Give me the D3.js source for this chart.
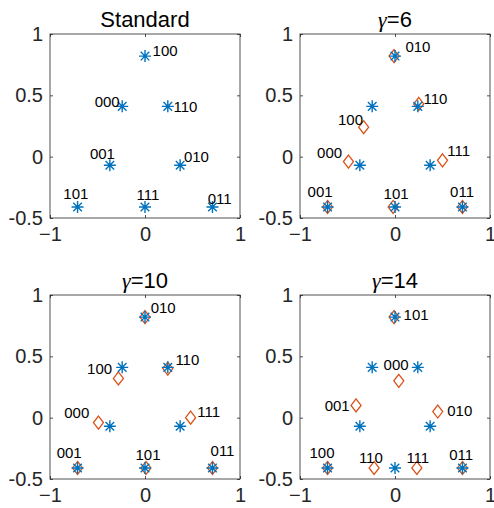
<!DOCTYPE html>
<html>
<head>
<meta charset="utf-8">
<script src="https://cdn.jsdelivr.net/npm/d3@7"></script>
<style>
  body { margin: 0; background: #fff; }
  text { font-family: "Liberation Sans", Arial, sans-serif; }
</style>
</head>
<body>
<div id="canvas"></div>
<script>
"use strict"

/* data: standard constellation (blue stars, same in every panel) */
let stdX = [0, -0.24, 0.24, -0.37, 0.37, -0.71, 0, 0.71];
let stdY = [0.82, 0.41, 0.41, -0.07, -0.07, -0.41, -0.41, -0.41];

let titles = ["Standard", "6", "10", "14"];
let xTicks = [-1, 0, 1];
let yTicks = [-0.5, 0, 0.5, 1];

/* new constellations (orange diamonds), one per gamma panel */
let g6X = [-0.01, 0.25, -0.33, -0.49, 0.50, -0.71, -0.02, 0.71];
let g6Y = [0.82, 0.43, 0.24, -0.04, -0.03, -0.41, -0.41, -0.41];
let g10X = [0, 0.24, -0.28, -0.49, 0.48, -0.71, 0.01, 0.71];
let g10Y = [0.82, 0.40, 0.32, -0.04, 0.00, -0.41, -0.41, -0.41];
let g14X = [-0.01, 0.04, -0.41, 0.45, -0.71, -0.22, 0.23, 0.71];
let g14Y = [0.82, 0.30, 0.10, 0.05, -0.41, -0.41, -0.41, -0.41];

/* bit labels and where they sit (data units, left edge / middle) */
let stdLabels = ["100", "000", "110", "001", "010", "101", "111", "011"];
let stdLabX = [0.08, -0.53, 0.30, -0.58, 0.41, -0.86, -0.09, 0.66];
let stdLabY = [0.86, 0.45, 0.41, 0.02, 0.00, -0.30, -0.31, -0.34];

let g6Labels = ["010", "110", "100", "000", "111", "001", "101", "011"];
let g6LabX = [0.11, 0.30, -0.60, -0.82, 0.55, -0.92, -0.12, 0.58];
let g6LabY = [0.90, 0.47, 0.30, 0.03, 0.05, -0.29, -0.30, -0.29];

let g10Labels = ["010", "110", "100", "000", "111", "001", "101", "011"];
let g10LabX = [0.06, 0.32, -0.61, -0.85, 0.55, -0.93, -0.10, 0.69];
let g10LabY = [0.90, 0.47, 0.40, 0.04, 0.05, -0.29, -0.30, -0.27];

let g14Labels = ["101", "000", "001", "010", "100", "110", "111", "011"];
let g14LabX = [0.09, -0.12, -0.74, 0.55, -0.90, -0.38, 0.12, 0.57];
let g14LabY = [0.84, 0.43, 0.10, 0.06, -0.29, -0.33, -0.33, -0.30];

let panels = [
    { x: null, y: null, labels: stdLabels, lx: stdLabX, ly: stdLabY },
    { x: g6X, y: g6Y, labels: g6Labels, lx: g6LabX, ly: g6LabY },
    { x: g10X, y: g10Y, labels: g10Labels, lx: g10LabX, ly: g10LabY },
    { x: g14X, y: g14Y, labels: g14Labels, lx: g14LabX, ly: g14LabY }
];

/* layout of the 2x2 grid */
let boxLeft = [50, 300];
let boxTop = [34, 295];
let boxW = 190;
let boxH = 184;

let blue = "#0072BD";
let orange = "#D95319";
let axisColor = "#262626";

let drawing = d3.select("#canvas")
    .append("svg")
    .attr("width", 494)
    .attr("height", 508);

/* star marker: plus and cross together */
let starPath = "M-6,0L6,0M0,-6L0,6M-4.3,-4.3L4.3,4.3M-4.3,4.3L4.3,-4.3";
/* diamond marker, a bit taller than wide */
let diamondPath = "M0,-6.5L5,0L0,6.5L-5,0Z";

panels.forEach(function (p, i) {
    let ox = boxLeft[i % 2];
    let oy = boxTop[Math.floor(i / 2)];

    let xScale = d3.scaleLinear().domain([-1, 1]).range([ox, ox + boxW]);
    let yScale = d3.scaleLinear().domain([-0.5, 1]).range([oy + boxH, oy]);

    let g = drawing.append("g");

    /* box */
    g.append("rect")
        .attr("x", ox)
        .attr("y", oy)
        .attr("width", boxW)
        .attr("height", boxH)
        .attr("fill", "none")
        .attr("stroke", axisColor)
        .attr("stroke-width", 0.8);

    /* axes with inward ticks, labels outside */
    let xAxis = g.append("g")
        .attr("transform", "translate(0," + (oy + boxH) + ")")
        .call(d3.axisBottom(xScale).tickValues(xTicks).tickSizeInner(-3).tickSizeOuter(0).tickPadding(9)
            .tickFormat(d3.format("d")));
    let xAxisTop = g.append("g")
        .attr("transform", "translate(0," + oy + ")")
        .call(d3.axisTop(xScale).tickValues(xTicks).tickSizeInner(-3).tickSizeOuter(0).tickFormat(""));
    let yAxis = g.append("g")
        .attr("transform", "translate(" + ox + ",0)")
        .call(d3.axisLeft(yScale).tickValues(yTicks).tickSizeInner(-3).tickSizeOuter(0).tickPadding(7)
            .tickFormat(function (d) { return String(d); }));
    let yAxisRight = g.append("g")
        .attr("transform", "translate(" + (ox + boxW) + ",0)")
        .call(d3.axisRight(yScale).tickValues(yTicks).tickSizeInner(-3).tickSizeOuter(0).tickFormat(""));

    [xAxis, xAxisTop, yAxis, yAxisRight].forEach(function (a) {
        a.select(".domain").remove();
        a.selectAll("line").attr("stroke", axisColor).attr("stroke-width", 0.8);
        a.selectAll("text")
            .attr("fill", axisColor)
            .attr("font-size", 20)
            .attr("font-family", "Liberation Sans, Arial, sans-serif");
    });

    /* title */
    let title = g.append("text")
        .attr("x", ox + boxW / 2)
        .attr("y", oy - 7)
        .attr("text-anchor", "middle")
        .attr("font-size", 22)
        .attr("fill", "#000");
    if (i === 0) {
        title.text(titles[i]);
    } else {
        title.append("tspan").attr("font-family", "Liberation Serif, serif").attr("font-style", "italic").text("γ");
        title.append("tspan").text("=" + titles[i]);
    }

    /* new constellation diamonds */
    if (p.x) {
        g.selectAll(".dia")
            .data(p.x)
            .enter()
            .append("path")
            .attr("d", diamondPath)
            .attr("transform", function (d, k) {
                return "translate(" + xScale(d) + "," + yScale(p.y[k]) + ")";
            })
            .attr("fill", "none")
            .attr("stroke", orange)
            .attr("stroke-width", 1.3);
    }

    /* standard constellation stars */
    g.selectAll(".star")
        .data(stdX)
        .enter()
        .append("path")
        .attr("d", starPath)
        .attr("transform", function (d, k) {
            return "translate(" + xScale(d) + "," + yScale(stdY[k]) + ")";
        })
        .attr("fill", "none")
        .attr("stroke", blue)
        .attr("stroke-width", 1.4);

    /* bit labels */
    g.selectAll(".lab")
        .data(p.labels)
        .enter()
        .append("text")
        .attr("x", function (d, k) { return xScale(p.lx[k]); })
        .attr("y", function (d, k) { return yScale(p.ly[k]); })
        .attr("dy", "0.35em")
        .attr("font-size", 15)
        .attr("fill", "#000")
        .text(function (d) { return d; });
});
</script>
</body>
</html>
